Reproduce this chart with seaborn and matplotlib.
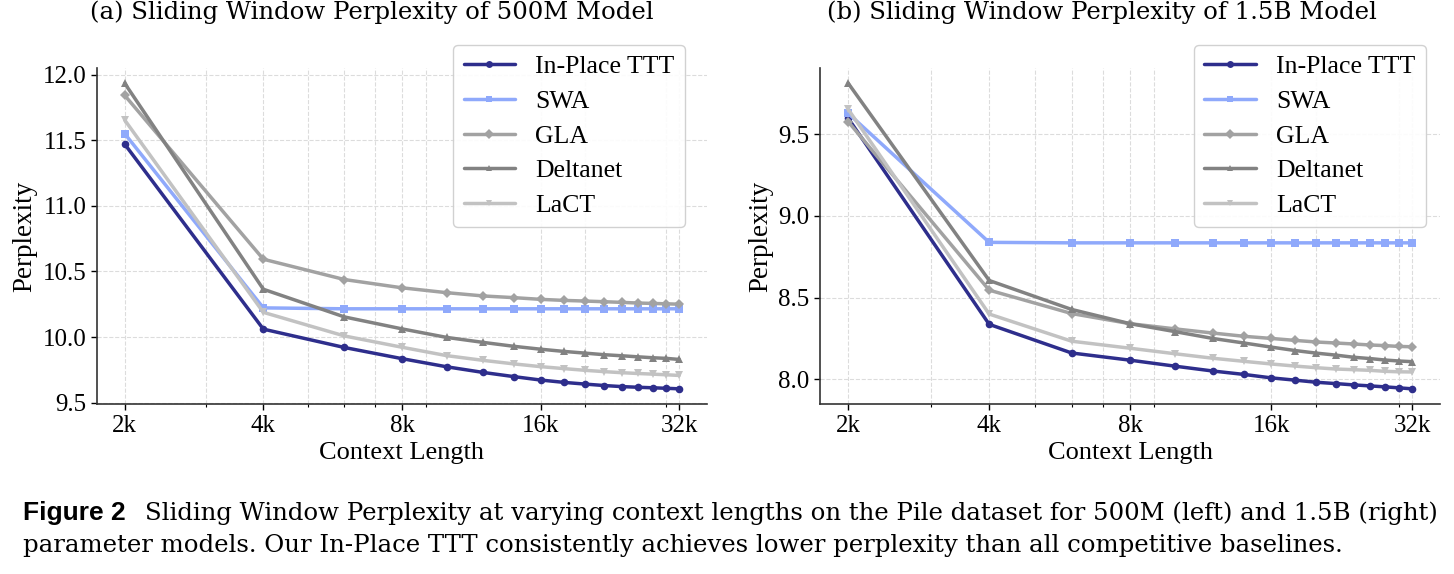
import matplotlib
matplotlib.use("Agg")
import matplotlib.pyplot as plt
import matplotlib.ticker as mticker
import pandas as pd
import seaborn as sns

# context lengths (k tokens)
ctx_k = [2, 4, 6, 8, 10, 12, 14, 16, 18, 20, 22, 24, 26, 28, 30, 32]
tick_pos = [2, 4, 8, 16, 32]
tick_labels = ["2k", "4k", "8k", "16k", "32k"]

models = ["In-Place TTT", "SWA", "GLA", "Deltanet", "LaCT"]

# 500M model
ttt_500m = [11.47, 10.06, 9.92, 9.835, 9.773, 9.73, 9.698, 9.672, 9.654, 9.641,
            9.63, 9.622, 9.617, 9.613, 9.609, 9.605]
swa_500m = [11.55, 10.222, 10.215, 10.215, 10.215, 10.215, 10.215, 10.215, 10.215,
            10.215, 10.215, 10.215, 10.215, 10.215, 10.215, 10.215]
gla_500m = [11.842, 10.593, 10.438, 10.375, 10.338, 10.313, 10.3, 10.287, 10.279,
            10.274, 10.269, 10.264, 10.259, 10.256, 10.253, 10.25]
delta_500m = [11.934, 10.364, 10.153, 10.062, 9.997, 9.959, 9.929, 9.907, 9.89,
              9.877, 9.865, 9.857, 9.849, 9.842, 9.837, 9.829]
lact_500m = [11.654, 10.188, 10.008, 9.922, 9.858, 9.822, 9.795, 9.774, 9.759,
             9.746, 9.736, 9.728, 9.722, 9.717, 9.712, 9.707]

# 1.5B model
ttt_15b = [9.596, 8.337, 8.162, 8.118, 8.081, 8.052, 8.031, 8.01, 7.996, 7.983,
           7.975, 7.967, 7.961, 7.955, 7.949, 7.943]
swa_15b = [9.626, 8.838, 8.835, 8.835, 8.835, 8.835, 8.835, 8.835, 8.835, 8.835,
           8.835, 8.835, 8.835, 8.835, 8.835, 8.835]
gla_15b = [9.575, 8.546, 8.403, 8.341, 8.309, 8.284, 8.264, 8.251, 8.239, 8.229,
           8.223, 8.217, 8.211, 8.207, 8.202, 8.2]
delta_15b = [9.81, 8.605, 8.428, 8.341, 8.292, 8.251, 8.223, 8.198, 8.177, 8.161,
             8.149, 8.136, 8.128, 8.119, 8.113, 8.109]
lact_15b = [9.651, 8.4, 8.234, 8.191, 8.157, 8.13, 8.111, 8.095, 8.082, 8.072,
            8.064, 8.06, 8.056, 8.05, 8.047, 8.046]

colors = {"In-Place TTT": "#2e2e8c", "SWA": "#8fa9fb", "GLA": "#a2a2a2",
          "Deltanet": "#828282", "LaCT": "#c2c2c2"}
markers = {"In-Place TTT": "o", "SWA": "s", "GLA": "D", "Deltanet": "^", "LaCT": "v"}


def to_frame(series):
    rows = []
    for name, vals in zip(models, series):
        for c, v in zip(ctx_k, vals):
            rows.append({"ctx": c, "ppl": v, "model": name})
    return pd.DataFrame(rows)


sns.set_theme(style="ticks")
plt.rcParams["font.family"] = ["Liberation Serif", "DejaVu Serif"]
for key in ["text.color", "axes.labelcolor", "xtick.color", "ytick.color"]:
    plt.rcParams[key] = "black"

fig = plt.figure(figsize=(14.54, 5.74), dpi=100)
ax1 = fig.add_axes([0.0667, 0.296, 0.4195, 0.5855])
ax2 = fig.add_axes([0.564, 0.296, 0.4265, 0.5855])

panels = [
    (ax1, [ttt_500m, swa_500m, gla_500m, delta_500m, lact_500m], [9.5, 10.0, 10.5, 11.0, 11.5, 12.0], 0.964),
    (ax2, [ttt_15b, swa_15b, gla_15b, delta_15b, lact_15b], [8.0, 8.5, 9.0, 9.5], 0.977),
]

for ax, series, yticks, lx in panels:
    df = to_frame(series)
    sns.lineplot(data=df, x="ctx", y="ppl", hue="model", style="model",
                 palette=colors, markers=markers, dashes=False,
                 linewidth=2.5, markersize=5.5, markeredgewidth=0,
                 ax=ax, legend=False)
    ax.set_xscale("log")
    ax.set_xticks(tick_pos)
    ax.set_xticklabels(tick_labels)
    ax.xaxis.set_minor_locator(mticker.LogLocator(base=10, subs=[2, 3, 4, 5, 6, 7, 8, 9]))
    ax.xaxis.set_minor_formatter(mticker.NullFormatter())
    ax.set_yticks(yticks)
    ax.yaxis.set_major_formatter(mticker.FormatStrFormatter("%.1f"))
    ax.tick_params(axis="both", which="major", labelsize=18, length=4, width=1)
    ax.tick_params(axis="x", which="minor", length=2.5, width=0.8)
    ax.grid(True, which="both", axis="x", ls="--", color="#dcdcdc", lw=0.8)
    ax.grid(True, which="major", axis="y", ls="--", color="#dcdcdc", lw=0.8)
    ax.set_xlabel("Context Length", fontsize=19, labelpad=4)
    ax.set_ylabel("Perplexity", fontsize=19.5, labelpad=4)
    sns.despine(ax=ax)
    for s in ["left", "bottom"]:
        ax.spines[s].set_color("#333333")
        ax.spines[s].set_linewidth(1.2)

    handles = [plt.Line2D([], [], color=colors[m], marker=markers[m], lw=2.5,
                          markersize=5, markeredgewidth=0, label=m) for m in models]
    ax.legend(handles=handles, loc="upper right", bbox_to_anchor=(lx, 1.068),
              borderaxespad=0, fontsize=18.5, frameon=True, fancybox=True,
              framealpha=0.9, edgecolor="#cccccc", handlelength=2.0,
              borderpad=0.4, labelspacing=0.45, handletextpad=0.8)

fig.text(0.256, 0.978, "(a) Sliding Window Perplexity of 500M Model", ha="center",
         va="center", fontsize=17.6, family=["DejaVu Serif"])
fig.text(0.758, 0.978, "(b) Sliding Window Perplexity of 1.5B Model", ha="center",
         va="center", fontsize=17.6, family=["DejaVu Serif"])

fig.text(0.016, 0.106, "Figure 2", fontsize=19, fontweight="bold",
         family=["Liberation Sans", "DejaVu Sans"], va="center")
fig.text(0.1, 0.106, "Sliding Window Perplexity at varying context lengths on the Pile dataset for "
         "500M (left) and 1.5B (right)", fontsize=17.6, va="center", family=["DejaVu Serif"])
fig.text(0.016, 0.05, "parameter models. Our In-Place TTT consistently achieves lower perplexity "
         "than all competitive baselines.", fontsize=17.6, va="center", family=["DejaVu Serif"])

fig.savefig("out.png", dpi=100)
